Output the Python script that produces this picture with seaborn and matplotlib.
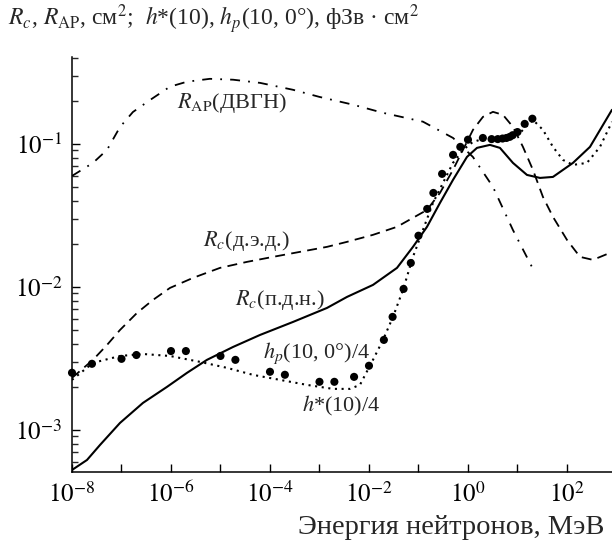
import matplotlib
matplotlib.use("Agg")
import matplotlib.pyplot as plt
import matplotlib.ticker as mticker
import numpy as np
import pandas as pd
import seaborn as sns

# R_AP (ДВГН), dash-dot
rap_e = [1e-8, 2.65e-8, 5.1e-8, 9.3e-8, 1.7e-7, 3.8e-7, 9.5e-7, 2.1e-6, 6.1e-6,
         1.8e-5, 6.3e-5, 2.9e-4, 1.0e-3, 4.75e-3, 1.9e-2, 0.123, 0.50, 1.26, 3.2, 8.1, 19.6]
rap_v = [0.0597, 0.0736, 0.0908, 0.131, 0.167, 0.203, 0.251, 0.272, 0.285,
         0.281, 0.267, 0.239, 0.213, 0.188, 0.165, 0.143, 0.110, 0.081, 0.050, 0.025, 0.0138]

# R_c (д.э.д.), dashed  (log10 E, log10 R)
rde_e = [-8.0, -7.576, -7.293, -7.03, -6.687, -6.364, -6.02, -5.556, -5.01, -4.465,
         -3.939, -3.394, -2.848, -2.444, -1.919, -1.434, -1.111, -0.828, -0.566, -0.303,
         -0.101, 0.101, 0.303, 0.505, 0.707, 0.909, 1.111, 1.313, 1.515, 1.717, 2.0,
         2.263, 2.525, 2.869]
rde_v = [-2.636, -2.510, -2.406, -2.301, -2.182, -2.091, -2.007, -1.937, -1.867, -1.825,
         -1.790, -1.755, -1.720, -1.685, -1.636, -1.580, -1.517, -1.462, -1.343, -1.182,
         -1.042, -0.902, -0.811, -0.776, -0.797, -0.881, -1.021, -1.182, -1.371, -1.510,
         -1.671, -1.790, -1.811, -1.762]

# R_c (п.д.н.), solid  (log10 E, log10 R)
rpd_e = [-8.0, -7.697, -7.434, -7.03, -6.566, -6.081, -5.677, -5.273, -4.747, -4.202,
         -3.535, -2.848, -2.444, -1.919, -1.434, -1.111, -0.828, -0.566, -0.303, -0.020,
         0.182, 0.444, 0.646, 0.909, 1.192, 1.455, 1.717, 2.121, 2.465, 2.909]
rpd_v = [-3.280, -3.210, -3.105, -2.951, -2.811, -2.699, -2.601, -2.510, -2.420, -2.336,
         -2.245, -2.147, -2.070, -1.986, -1.867, -1.720, -1.580, -1.413, -1.252, -1.091,
         -1.028, -1.007, -1.028, -1.133, -1.217, -1.238, -1.231, -1.133, -1.021, -0.762]

# h*(10)/4, dotted  (log10 E, log10 h)
hs_e = [-8.0, -7.576, -7.03, -6.566, -6.02, -5.414, -4.869, -4.343, -3.798, -3.253,
        -2.727, -2.384, -2.182, -1.919, -1.717, -1.515, -1.313, -1.111, -0.909, -0.707,
        -0.505, -0.303, -0.101, 0.101, 0.384, 0.788, 1.051, 1.313, 1.515, 1.717, 1.919,
        2.121, 2.404, 2.667, 2.909]
hs_v = [-2.650, -2.531, -2.483, -2.469, -2.483, -2.524, -2.566, -2.615, -2.650, -2.685,
        -2.713, -2.713, -2.685, -2.510, -2.371, -2.210, -2.021, -1.790, -1.601, -1.413,
        -1.273, -1.133, -1.042, -0.986, -0.958, -0.958, -0.923, -0.832, -0.902, -1.021,
        -1.112, -1.147, -1.133, -1.021, -0.846]

# h_p(10, 0°)/4, points
hp_e = [1e-8, 2.53e-8, 1e-7, 2e-7, 1e-6, 2e-6, 1e-5, 2e-5, 1e-4, 2e-4, 1e-3, 2e-3,
        5e-3, 1e-2, 2e-2, 3e-2, 5e-2, 7e-2, 0.1, 0.15, 0.2, 0.3, 0.5, 0.7, 1.0,
        2, 3, 4, 5, 6, 7, 8, 10, 14, 20]
hp_v = [2.51e-3, 2.90e-3, 3.14e-3, 3.34e-3, 3.56e-3, 3.56e-3, 3.29e-3, 3.09e-3, 2.55e-3,
        2.43e-3, 2.17e-3, 2.17e-3, 2.35e-3, 2.81e-3, 4.26e-3, 6.17e-3, 9.68e-3, 1.47e-2,
        2.28e-2, 3.51e-2, 4.54e-2, 6.17e-2, 8.38e-2, 9.53e-2, 0.107, 0.110, 0.108, 0.108,
        0.109, 0.110, 0.112, 0.115, 0.121, 0.138, 0.150]

sns.set_style("ticks")
plt.rcParams["font.family"] = ["Liberation Serif", "DejaVu Serif"]
plt.rcParams["mathtext.fontset"] = "stix"

fig = plt.figure(figsize=(6.12, 5.42), dpi=100)
ax = fig.add_axes([72 / 612, 70 / 542, 540 / 612, 415 / 542])
ax.set_xscale("log")
ax.set_yscale("log")

lw = 1.3
sns.lineplot(x=rap_e, y=rap_v, ax=ax, color="black", lw=lw,
             linestyle=(0, (5.5, 4.5, 1.0, 4.5)))
sns.lineplot(x=10 ** np.array(rde_e), y=10 ** np.array(rde_v), ax=ax, color="black",
             lw=lw, linestyle=(0, (5.5, 3.5)))
sns.lineplot(x=10 ** np.array(rpd_e), y=10 ** np.array(rpd_v), ax=ax, color="black",
             lw=1.5, linestyle="-")
sns.lineplot(x=10 ** np.array(hs_e), y=10 ** np.array(hs_v), ax=ax, color="black",
             lw=1.5, linestyle=(0, (1.0, 2.2)))
hp = pd.DataFrame({"E": hp_e, "h": hp_v})
sns.scatterplot(data=hp, x="E", y="h", ax=ax, color="black", s=34,
                edgecolor="none", clip_on=False, zorder=5)

ax.set_xlim(1e-8, 10 ** 2.91)
ax.set_ylim(5.08e-4, 0.405)
ax.set_xlabel("")
ax.set_ylabel("")

ax.xaxis.set_major_locator(mticker.LogLocator(base=10, numticks=30))
ax.xaxis.set_minor_locator(mticker.NullLocator())
ax.xaxis.set_major_formatter(mticker.FuncFormatter(
    lambda v, p: r"$10^{%d}$" % round(np.log10(v)) if round(np.log10(v)) % 2 == 0 else ""))
ax.yaxis.set_major_locator(mticker.LogLocator(base=10, numticks=10))
ax.yaxis.set_minor_locator(mticker.LogLocator(base=10, subs=np.arange(2, 10), numticks=10))
ax.yaxis.set_minor_formatter(mticker.NullFormatter())
ax.yaxis.set_major_formatter(mticker.FuncFormatter(
    lambda v, p: r"$10^{%d}$" % round(np.log10(v))))

ax.tick_params(axis="both", which="major", direction="in", length=6, width=1.0,
               labelsize=18, colors="black", pad=7)
ax.tick_params(axis="y", which="minor", direction="in", length=4.5, width=1.0)
sns.despine(ax=ax)
for s in ["left", "bottom"]:
    ax.spines[s].set_linewidth(1.1)
    ax.spines[s].set_color("black")

fs = 16
ax.text(1.32e-6, 0.179, r"$R_{\rm AP}$(ДВГН)", fontsize=fs, va="baseline")
ax.text(4.43e-6, 0.0194, r"$R_c$(д.э.д.)", fontsize=fs, va="baseline")
ax.text(1.96e-5, 7.48e-3, r"$R_c$(п.д.н.)", fontsize=fs, va="baseline")
ax.text(7.2e-5, 3.18e-3, r"$h_p$(10, 0°)/4", fontsize=fs, va="baseline")
ax.text(4.43e-4, 1.34e-3, r"$h$*(10)/4", fontsize=fs, va="baseline")

fig.text(8 / 612, 1 - 26 / 542,
         r"$R_c$, $R_{\rm AP}$, см$^2$;  $h$*(10), $h_p$(10, 0°), фЗв · см$^2$",
         fontsize=17, va="baseline", ha="left")
fig.text(604 / 612, 1 - 534 / 542, "Энергия нейтронов, МэВ",
         fontsize=20.5, va="baseline", ha="right")

fig.savefig("out.png", dpi=100)
